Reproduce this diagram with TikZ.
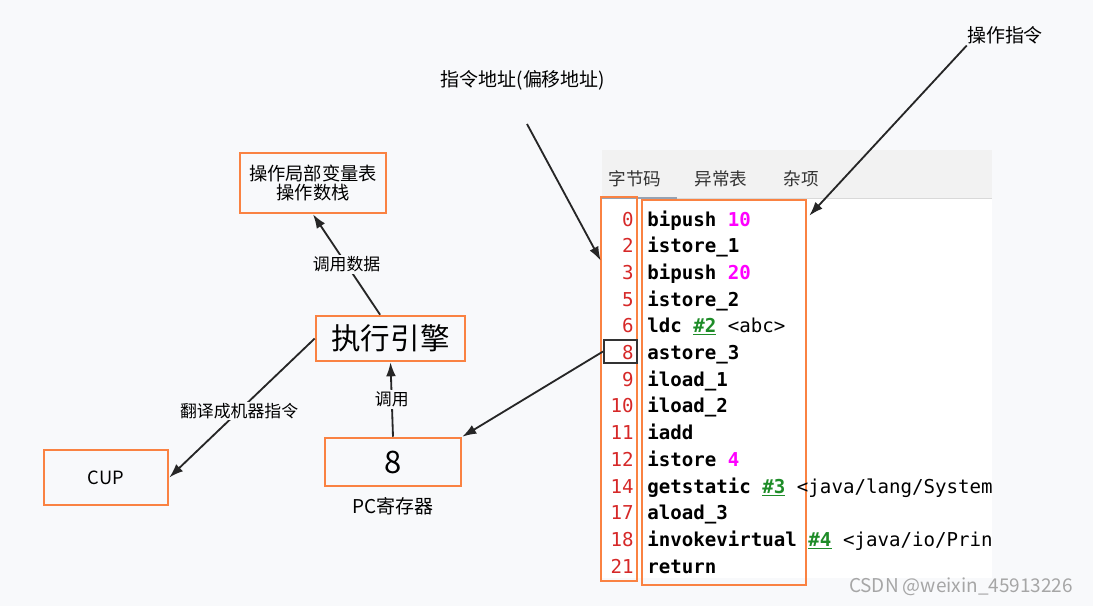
\documentclass[tikz,border=0pt]{standalone}
\usepackage{fontspec}
\setmainfont{Noto Sans CJK SC}
\newfontfamily\codefont{DejaVu Sans Mono}
\usetikzlibrary{arrows.meta, positioning, calc}

\definecolor{pagebg}{RGB}{248,249,251}
\definecolor{boxorange}{RGB}{250,130,66}
\definecolor{numred}{RGB}{214,40,40}
\definecolor{argpink}{RGB}{255,0,255}
\definecolor{refgreen}{RGB}{30,140,40}
\definecolor{tabgray}{RGB}{242,242,242}
\definecolor{tabline}{RGB}{150,162,178}
\newcommand{\hashref}[1]{{\color{refgreen}\underline{#1}}}
\newcommand{\argv}[1]{{\color{argpink}#1}}

\begin{document}
\begin{tikzpicture}[
    x=0.025cm, y=-0.025cm,
    block/.style={rectangle, draw=boxorange, line width=1.8pt, inner sep=0pt, align=center},
    note/.style={inner sep=1pt, font=\fontsize{13.5}{15}\selectfont},
    tag/.style={fill=pagebg, inner sep=1pt, font=\fontsize{12}{14}\selectfont},
    line/.style={-{Latex[length=10pt,width=7pt]}, line width=1.3pt, draw=black!85},
    numtext/.style={anchor=base east, inner sep=0pt, text=numred, font=\codefont\fontsize{13.6}{16}\selectfont},
    codetext/.style={anchor=base west, inner sep=0pt, font=\codefont\bfseries\fontsize{13.6}{16}\selectfont}
]

% Background
\fill[pagebg] (0,0) rectangle (1093,606);
\useasboundingbox (0,0) rectangle (1093,606);
\fill[tabgray] (602,150) rectangle (992,198);
\fill[white] (602,198) rectangle (992,578);
\draw[gray!30, line width=0.6pt] (602,198) -- (992,198);
\draw[tabline, line width=2pt] (602,198) -- (677,198);

% Tabs
\node[font=\fontsize{12.5}{14}\selectfont, text=black!80] (tab1) at (635,179) {字节码};
\node[font=\fontsize{12.5}{14}\selectfont, text=black!80] (tab2) at (721,179) {异常表};
\node[font=\fontsize{12.5}{14}\selectfont, text=black!80] (tab3) at (801,179) {杂项};

% Nodes
\node[block, minimum width=3.65cm, minimum height=1.5cm, font=\fontsize{13}{15}\selectfont] (stack) at (313,183) {操作局部变量表\\[-2pt]操作数栈};
\node[block, minimum width=3.725cm, minimum height=1.125cm, font=\fontsize{21}{24}\selectfont] (engine) at (390.5,338.5) {执行引擎};
\node[block, minimum width=3.1cm, minimum height=1.375cm, font=\fontsize{13}{15}\selectfont] (cup) at (106,477.5) {CUP};
\node[block, minimum width=3.4cm, minimum height=1.2cm, font=\fontsize{22}{24}\selectfont] (pc) at (393,462) {8};
\node[note, below=0.2cm of pc] (pclabel) {PC寄存器};
\node[block, minimum width=0.9cm, minimum height=9.6cm] (nums) at (619,389) {};
\node[block, minimum width=4.1cm, minimum height=9.625cm] (code) at (724,392.5) {};
\node[draw=black!80, line width=1.4pt, minimum width=0.825cm, minimum height=0.575cm, inner sep=0pt] (cur) at (620.5,351.5) {};

\node[note] (addrlabel) at (523,80) {指令地址(偏移地址)};
\node[note] (oplabel) at (1005,35) {操作指令};
\coordinate (addrtail) at (527,124);

% Bytecode listing
\begin{scope}
\clip (602,150) rectangle (992,600);
\foreach \n/\c [count=\k from 0] in {
    0/{bipush \argv{10}},
    2/{istore\_1},
    3/{bipush \argv{20}},
    5/{istore\_2},
    6/{ldc \hashref{\#2} {\mdseries <abc>}},
    8/{astore\_3},
    9/{iload\_1},
    10/{iload\_2},
    11/{iadd},
    12/{istore \argv{4}},
    14/{getstatic \hashref{\#3} {\mdseries <java/lang/System.}},
    17/{aload\_3},
    18/{invokevirtual \hashref{\#4} {\mdseries <java/io/Print}},
    21/{return}} {
  \node[numtext] (n\k) at (634,{226+26.7*\k}) {\n};
  \node[codetext] (c\k) at (647,{226+26.7*\k}) {\c};
}
\end{scope}

\node[text=black!35, inner sep=0pt, font=\fontsize{13.5}{15}\selectfont] (mark) at (961,587) {CSDN @weixin\_45913226};

% Connections
\draw[line] ([xshift=-0.26cm]engine.north) -- node[tag] {调用数据} (stack.south);
\draw[line] (engine.west) -- node[tag, pos=0.52] {翻译成机器指令} (cup.east);
\draw[line] (pc.north) -- node[tag] {调用} (engine.south);
\draw[line] (cur.west) -- (pc.north east);
\draw[line] (addrtail) -- ($(nums.north west)+(1,65)$);
\draw[line] ([xshift=1pt]oplabel.south west) -- ($(code.north east)+(2,17)$);

\end{tikzpicture}
\end{document}
